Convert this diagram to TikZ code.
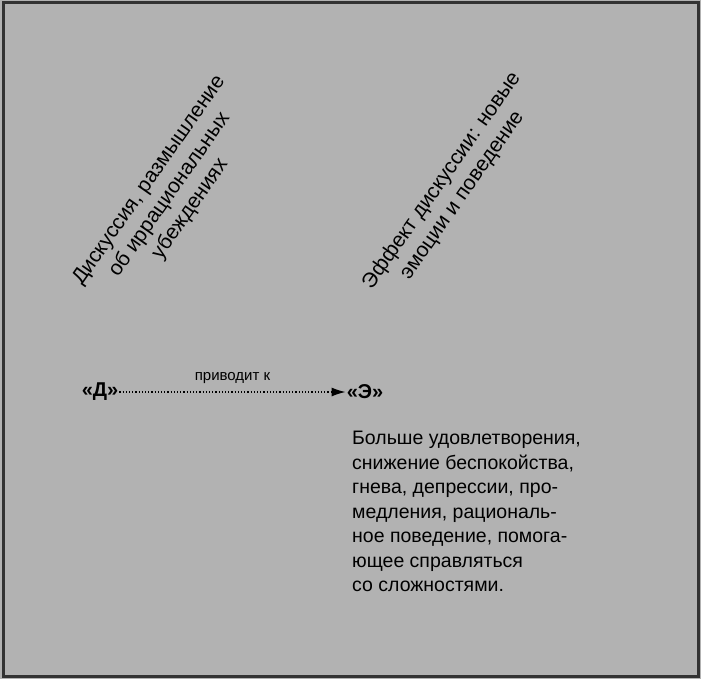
\documentclass[tikz,border=0pt]{standalone}
\usepackage{fontspec}
\setmainfont{Liberation Sans}
\usetikzlibrary{arrows.meta}
\tikzset{
 lbl/.style={font=\fontsize{21}{25}\selectfont, align=center, rotate=55, inner sep=0},
 term/.style={font=\fontsize{20}{24}\selectfont\bfseries, inner sep=1pt},
 body/.style={font=\fontsize{19.5}{24.5}\selectfont, align=left, anchor=north west, inner sep=0}
}
\begin{document}
\begin{tikzpicture}[x=1pt,y=-1pt]
\useasboundingbox (0,0) rectangle (701,679);
\fill[gray!60] (0,0) rectangle (701,679);
\draw[line width=3pt, black!80] (3,3) rectangle (698,676);
\node[lbl] (l1) at (170,195) {Дискуссия, размышление\\об иррациональных\\убеждениях};
\node[lbl] (l2) at (452,188) {Эффект дискуссии: новые\\эмоции и поведение};
\node[term] (d) at (100,392) {«Д»};
\node[term] (e) at (365,392) {«Э»};
\draw[dotted, line width=1.2pt, -{Latex[length=14pt,width=9pt]}] (d) -- (e) node[midway, above=4pt, font=\fontsize{15}{18}\selectfont] (lead) {приводит к};
\node[body] (b) at (352,431) {Больше удовлетворения,\\снижение беспокойства,\\гнева, депрессии, про-\\медления, рациональ-\\ное поведение, помога-\\ющее справляться\\со сложностями.};
\end{tikzpicture}
\end{document}
